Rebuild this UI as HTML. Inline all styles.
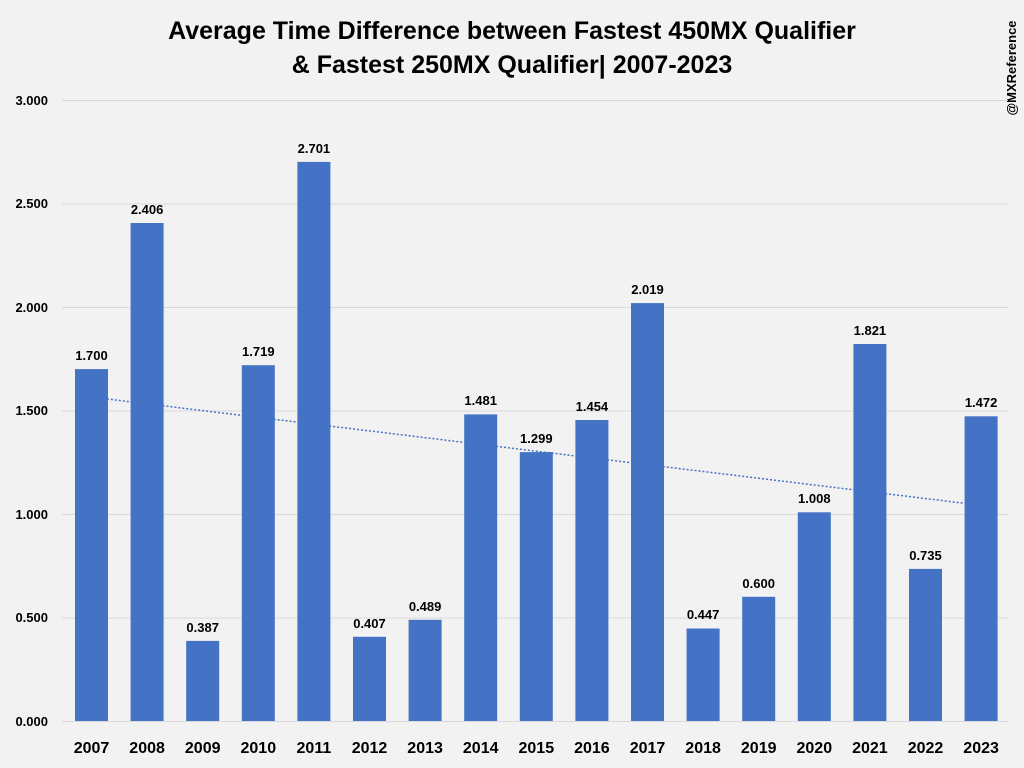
<!DOCTYPE html>
<html><head><meta charset="utf-8"><style>
body{margin:0;background:#f2f2f2;}
svg{display:block;font-family:"Liberation Sans",sans-serif;}
</style></head><body>
<svg width="1024" height="768" viewBox="0 0 1024 768" xmlns="http://www.w3.org/2000/svg">
<rect width="1024" height="768" fill="#f2f2f2"/>
<text x="512" y="39" text-anchor="middle" font-size="25" font-weight="bold" fill="#000">Average Time Difference between Fastest 450MX Qualifier</text>
<text x="512" y="73" text-anchor="middle" font-size="25" font-weight="bold" fill="#000">&amp; Fastest 250MX Qualifier| 2007-2023</text>
<text transform="translate(1016,68) rotate(-90)" text-anchor="middle" font-size="13" font-weight="bold" fill="#000">@MXReference</text>
<g stroke="#d9d9d9" stroke-width="1">
<line x1="62" x2="1008" y1="100.5" y2="100.5"/>
<line x1="62" x2="1008" y1="204" y2="204"/>
<line x1="62" x2="1008" y1="307.5" y2="307.5"/>
<line x1="62" x2="1008" y1="411" y2="411"/>
<line x1="62" x2="1008" y1="514.5" y2="514.5"/>
<line x1="62" x2="1008" y1="618" y2="618"/>
<line x1="62" x2="1008" y1="721.5" y2="721.5"/>
</g>
<g font-size="13" font-weight="bold" fill="#000" text-anchor="end">
<text x="48" y="105">3.000</text>
<text x="48" y="208">2.500</text>
<text x="48" y="312">2.000</text>
<text x="48" y="415">1.500</text>
<text x="48" y="519">1.000</text>
<text x="48" y="622">0.500</text>
<text x="48" y="726">0.000</text>
</g>
<g fill="#4472c4">
<rect x="75" y="369.1" width="33" height="351.9"/>
<rect x="130.6" y="223" width="33" height="498"/>
<rect x="186.2" y="640.9" width="33" height="80.1"/>
<rect x="241.8" y="365.2" width="33" height="355.8"/>
<rect x="297.4" y="161.9" width="33" height="559.1"/>
<rect x="353" y="636.8" width="33" height="84.2"/>
<rect x="408.6" y="619.8" width="33" height="101.2"/>
<rect x="464.2" y="414.4" width="33" height="306.6"/>
<rect x="519.8" y="452.1" width="33" height="268.9"/>
<rect x="575.4" y="420" width="33" height="301"/>
<rect x="631" y="303.1" width="33" height="417.9"/>
<rect x="686.6" y="628.5" width="33" height="92.5"/>
<rect x="742.2" y="596.8" width="33" height="124.2"/>
<rect x="797.8" y="512.3" width="33" height="208.7"/>
<rect x="853.4" y="344" width="33" height="377"/>
<rect x="909" y="568.9" width="33" height="152.1"/>
<rect x="964.6" y="416.3" width="33" height="304.7"/>
</g>
<line x1="91" y1="397" x2="995" y2="507" stroke="#4472c4" stroke-width="1.5" stroke-dasharray="2,2"/>
<g font-size="13" font-weight="bold" fill="#000" text-anchor="middle">
<text x="91.5" y="360">1.700</text>
<text x="147.1" y="214">2.406</text>
<text x="202.7" y="632">0.387</text>
<text x="258.3" y="356">1.719</text>
<text x="313.9" y="153">2.701</text>
<text x="369.5" y="628">0.407</text>
<text x="425.1" y="611">0.489</text>
<text x="480.7" y="405">1.481</text>
<text x="536.3" y="443">1.299</text>
<text x="591.9" y="411">1.454</text>
<text x="647.5" y="294">2.019</text>
<text x="703.1" y="619">0.447</text>
<text x="758.7" y="588">0.600</text>
<text x="814.3" y="503">1.008</text>
<text x="869.9" y="335">1.821</text>
<text x="925.5" y="560">0.735</text>
<text x="981.1" y="407">1.472</text>
</g>
<g font-size="16" font-weight="bold" fill="#000" text-anchor="middle">
<text x="91.5" y="753">2007</text>
<text x="147.1" y="753">2008</text>
<text x="202.7" y="753">2009</text>
<text x="258.3" y="753">2010</text>
<text x="313.9" y="753">2011</text>
<text x="369.5" y="753">2012</text>
<text x="425.1" y="753">2013</text>
<text x="480.7" y="753">2014</text>
<text x="536.3" y="753">2015</text>
<text x="591.9" y="753">2016</text>
<text x="647.5" y="753">2017</text>
<text x="703.1" y="753">2018</text>
<text x="758.7" y="753">2019</text>
<text x="814.3" y="753">2020</text>
<text x="869.9" y="753">2021</text>
<text x="925.5" y="753">2022</text>
<text x="981.1" y="753">2023</text>
</g>
</svg>
</body></html>
